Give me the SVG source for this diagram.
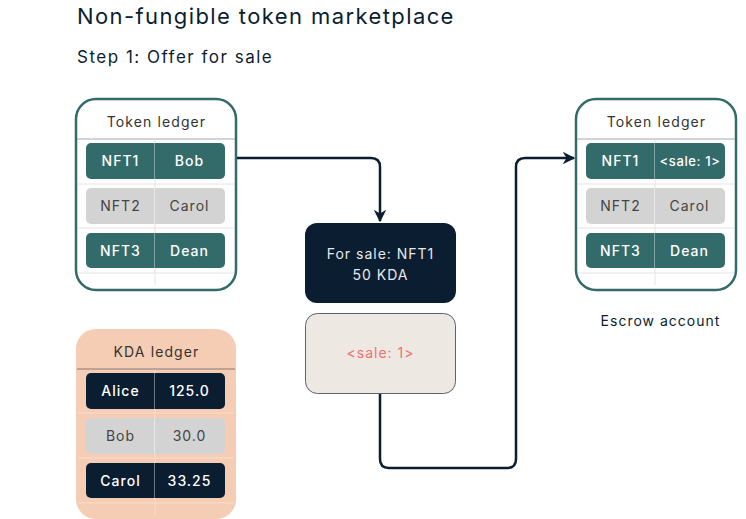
<svg xmlns="http://www.w3.org/2000/svg" width="746" height="519" viewBox="0 0 746 519">
<defs>
<style>
text{font-family:Inter,"Liberation Sans",sans-serif;}
.title{font-size:22px;fill:#0B1D30;letter-spacing:1.4px;}
.sub{font-size:17px;fill:#0B1D30;letter-spacing:1.5px;}
.hdr{font-size:14px;fill:#333;text-anchor:middle;letter-spacing:1.1px;}
.cell{font-size:14px;text-anchor:middle;letter-spacing:1px;}
.w{fill:#FFFFFF;font-weight:500;}
.g{fill:#444;}
.teal{fill:#336B6A;}
.grey{fill:#D3D3D3;}
.navy{fill:#0B1D30;}
.faint{stroke:#E4E4E4;stroke-width:1;fill:none;}
.faintp{stroke:#F8DCCB;stroke-width:1;fill:none;}
.conn{stroke:#0B1D30;stroke-width:2.5;fill:none;}
</style>
<marker id="arr" viewBox="0 0 10 10" refX="9" refY="5" markerWidth="5" markerHeight="5" orient="auto" markerUnits="strokeWidth">
<path d="M0,0 L10,5 L0,10 L3,5 Z" fill="#0B1D30"/>
</marker>
</defs>
<rect width="746" height="519" fill="#FFFFFF"/>
<text class="title" x="77" y="24">Non-fungible token marketplace</text>
<text class="sub" x="77" y="63">Step 1: Offer for sale</text>

<g id="left-token-ledger">
<rect x="76" y="99" width="160" height="191" rx="20" fill="#FFFFFF" stroke="#336B6A" stroke-width="2.5"/>
<text class="hdr" x="156.5" y="127">Token ledger</text>
<line x1="77" y1="139" x2="235" y2="139" stroke="#A8A8A8" stroke-width="1.2"/>
<line class="faint" x1="155" y1="140" x2="155" y2="285"/>
<line class="faint" x1="78" y1="184" x2="234" y2="184"/>
<line class="faint" x1="78" y1="228" x2="234" y2="228"/>
<line class="faint" x1="78" y1="273" x2="234" y2="273"/>
<rect class="teal" x="86" y="143" width="139" height="36" rx="5"/>
<rect class="grey" x="86" y="188" width="139" height="36" rx="5"/>
<rect class="teal" x="86" y="233" width="139" height="35" rx="5"/>
<line x1="154.5" y1="143" x2="154.5" y2="179" stroke="#7FA3A2" stroke-width="1"/>
<line x1="154.5" y1="188" x2="154.5" y2="224" stroke="#E8E8E8" stroke-width="1"/>
<line x1="154.5" y1="233" x2="154.5" y2="268" stroke="#7FA3A2" stroke-width="1"/>
<text class="cell w" x="120.5" y="166">NFT1</text>
<text class="cell w" x="189.5" y="166">Bob</text>
<text class="cell g" x="120.5" y="211">NFT2</text>
<text class="cell g" x="189.5" y="211">Carol</text>
<text class="cell w" x="120.5" y="256">NFT3</text>
<text class="cell w" x="189.5" y="256">Dean</text>
</g>

<g id="kda-ledger">
<rect x="76" y="329" width="160" height="190" rx="20" fill="#F5CDB4"/>
<text class="hdr" x="156.5" y="357">KDA ledger</text>
<line x1="77" y1="369" x2="235" y2="369" stroke="#8A7A70" stroke-width="1.2"/>
<line class="faintp" x1="155" y1="370" x2="155" y2="515"/>
<line class="faintp" x1="78" y1="413" x2="234" y2="413"/>
<line class="faintp" x1="78" y1="458" x2="234" y2="458"/>
<line class="faintp" x1="78" y1="503" x2="234" y2="503"/>
<rect class="navy" x="86" y="373" width="139" height="36" rx="5"/>
<rect class="grey" x="86" y="418" width="139" height="36" rx="5"/>
<rect class="navy" x="86" y="463" width="139" height="35" rx="5"/>
<line x1="154.5" y1="373" x2="154.5" y2="409" stroke="#6A7583" stroke-width="1"/>
<line x1="154.5" y1="418" x2="154.5" y2="454" stroke="#E8E8E8" stroke-width="1"/>
<line x1="154.5" y1="463" x2="154.5" y2="498" stroke="#6A7583" stroke-width="1"/>
<text class="cell w" x="120.5" y="396">Alice</text>
<text class="cell w" x="189.5" y="396">125.0</text>
<text class="cell g" x="120.5" y="441">Bob</text>
<text class="cell g" x="189.5" y="441">30.0</text>
<text class="cell w" x="120.5" y="486">Carol</text>
<text class="cell w" x="189.5" y="486">33.25</text>
</g>

<g id="for-sale">
<rect x="305" y="223" width="151" height="80" rx="12" fill="#0B1D30"/>
<text class="cell" x="380.5" y="259" fill="#E8E8E8">For sale: NFT1</text>
<text class="cell" x="380.5" y="280" fill="#E8E8E8">50 KDA</text>
</g>

<g id="sale-id">
<rect x="305.5" y="313.5" width="150" height="80" rx="12" fill="#EEE8E3" stroke="#5A6270" stroke-width="1"/>
<text class="cell" x="380.5" y="358" fill="#F07070">&lt;sale: 1&gt;</text>
</g>

<g id="right-token-ledger">
<rect x="576" y="99" width="160" height="191" rx="20" fill="#FFFFFF" stroke="#336B6A" stroke-width="2.5"/>
<text class="hdr" x="656.5" y="127">Token ledger</text>
<line x1="577" y1="139" x2="735" y2="139" stroke="#A8A8A8" stroke-width="1.2"/>
<line class="faint" x1="655" y1="140" x2="655" y2="285"/>
<line class="faint" x1="578" y1="184" x2="734" y2="184"/>
<line class="faint" x1="578" y1="228" x2="734" y2="228"/>
<line class="faint" x1="578" y1="273" x2="734" y2="273"/>
<rect class="teal" x="586" y="143" width="139" height="36" rx="5"/>
<rect class="grey" x="586" y="188" width="139" height="36" rx="5"/>
<rect class="teal" x="586" y="233" width="139" height="35" rx="5"/>
<line x1="654.5" y1="143" x2="654.5" y2="179" stroke="#7FA3A2" stroke-width="1"/>
<line x1="654.5" y1="188" x2="654.5" y2="224" stroke="#E8E8E8" stroke-width="1"/>
<line x1="654.5" y1="233" x2="654.5" y2="268" stroke="#7FA3A2" stroke-width="1"/>
<text class="cell w" x="620.5" y="166">NFT1</text>
<text class="cell w" x="690" y="166" style="font-size:13px;letter-spacing:0.6px">&lt;sale: 1&gt;</text>
<text class="cell g" x="620.5" y="211">NFT2</text>
<text class="cell g" x="689.5" y="211">Carol</text>
<text class="cell w" x="620.5" y="256">NFT3</text>
<text class="cell w" x="689.5" y="256">Dean</text>
<text class="cell" x="660.5" y="326" fill="#0B1D30">Escrow account</text>
</g>

<g id="connectors">
<path class="conn" d="M237,158 H371 Q380,158 380,167 V221" marker-end="url(#arr)"/>
<path class="conn" d="M380,394 V459 Q380,468 389,468 H507 Q516,468 516,459 V167 Q516,158 525,158 H574" marker-end="url(#arr)"/>
</g>
</svg>
